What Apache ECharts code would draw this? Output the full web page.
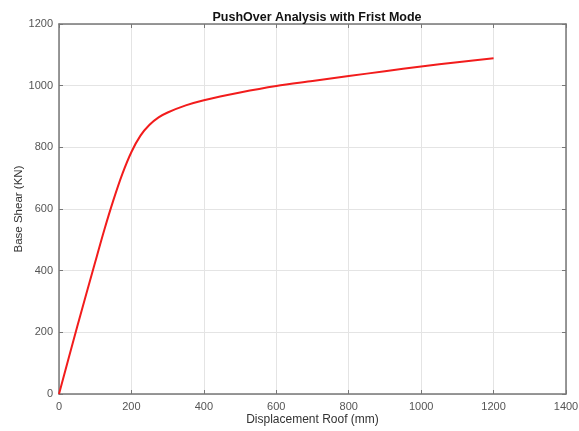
<!DOCTYPE html>
<html>
<head>
<meta charset="utf-8">
<script src="https://cdn.jsdelivr.net/npm/echarts@6/dist/echarts.min.js"></script>
<style>
  html, body { margin: 0; padding: 0; background: #fff; }
  #chart { width: 579px; height: 431px; }
</style>
</head>
<body>
<div id="chart"></div>
<script>
// Pushover capacity curve: roof displacement (mm) vs base shear (KN)
const displacement = [0, 50, 100, 125, 150, 175, 200, 225, 250, 275, 300, 350, 400, 500, 600, 700, 800, 900, 1000, 1100, 1200];
const baseShear    = [0, 217, 428, 532, 628, 714, 785, 838, 873, 897, 913, 936, 953, 978, 999, 1015, 1031, 1047, 1062, 1076, 1089];
const xTicks = [0, 200, 400, 600, 800, 1000, 1200, 1400];
const yTicks = [0, 200, 400, 600, 800, 1000, 1200];

const points = displacement.map((d, i) => [d, baseShear[i]]);
const fontFamily = 'Liberation Sans, Arial, sans-serif';
const axisGray = '#555';
const gridGray = '#e4e4e4';
const plain = (v) => String(v);

const chart = echarts.init(document.getElementById('chart'), null, { renderer: 'canvas' });

// Frame axes on the top and right: line and inward ticks only
const boxAxis = (extra) => Object.assign({
  type: 'value',
  axisLine: { show: true, onZero: false, lineStyle: { color: '#777', width: 1.5 } },
  axisTick: { show: true, inside: true, length: 4, lineStyle: { color: '#777' } },
  splitLine: { show: false },
  axisLabel: { show: false }
}, extra);

chart.setOption({
  animation: false,
  backgroundColor: '#fff',
  title: {
    text: 'PushOver Analysis with Frist Mode',
    left: 312, top: 6, textAlign: 'center',
    textStyle: { fontFamily, fontSize: 12.5, fontWeight: 'bold', color: '#111' }
  },
  grid: { left: 59, right: 13, top: 24, bottom: 37, containLabel: false, outerBoundsMode: 'none' },
  xAxis: [
    {
      type: 'value', min: xTicks[0], max: xTicks[xTicks.length - 1], interval: 200,
      name: 'Displacement Roof (mm)', nameLocation: 'middle', nameGap: 20, nameMoveOverlap: false,
      nameTextStyle: { fontFamily, fontSize: 12, color: '#333' },
      axisLine: { show: true, onZero: false, lineStyle: { color: '#777', width: 1.5 } },
      axisTick: { show: true, inside: true, length: 4, lineStyle: { color: '#777' } },
      axisLabel: { fontFamily, fontSize: 11, color: axisGray, margin: 7, formatter: plain },
      splitLine: { show: true, lineStyle: { color: gridGray, width: 1 } }
    },
    boxAxis({ position: 'top', min: xTicks[0], max: xTicks[xTicks.length - 1], interval: 200 })
  ],
  yAxis: [
    {
      type: 'value', min: yTicks[0], max: yTicks[yTicks.length - 1], interval: 200,
      name: 'Base Shear (KN)', nameLocation: 'middle', nameGap: 34, nameRotate: 90, nameMoveOverlap: false,
      nameTextStyle: { fontFamily, fontSize: 11.5, color: '#333' },
      axisLine: { show: true, onZero: false, lineStyle: { color: '#777', width: 1.5 } },
      axisTick: { show: true, inside: true, length: 4, lineStyle: { color: '#777' } },
      axisLabel: { fontFamily, fontSize: 11, color: axisGray, margin: 6, formatter: plain },
      splitLine: { show: true, lineStyle: { color: gridGray, width: 1 } }
    },
    boxAxis({ position: 'right', min: yTicks[0], max: yTicks[yTicks.length - 1], interval: 200 })
  ],
  series: [{
    type: 'line',
    data: points,
    smooth: 0.3,
    showSymbol: false,
    lineStyle: { color: '#f21c1c', width: 2 },
    xAxisIndex: 0, yAxisIndex: 0
  }]
});
</script>
</body>
</html>
